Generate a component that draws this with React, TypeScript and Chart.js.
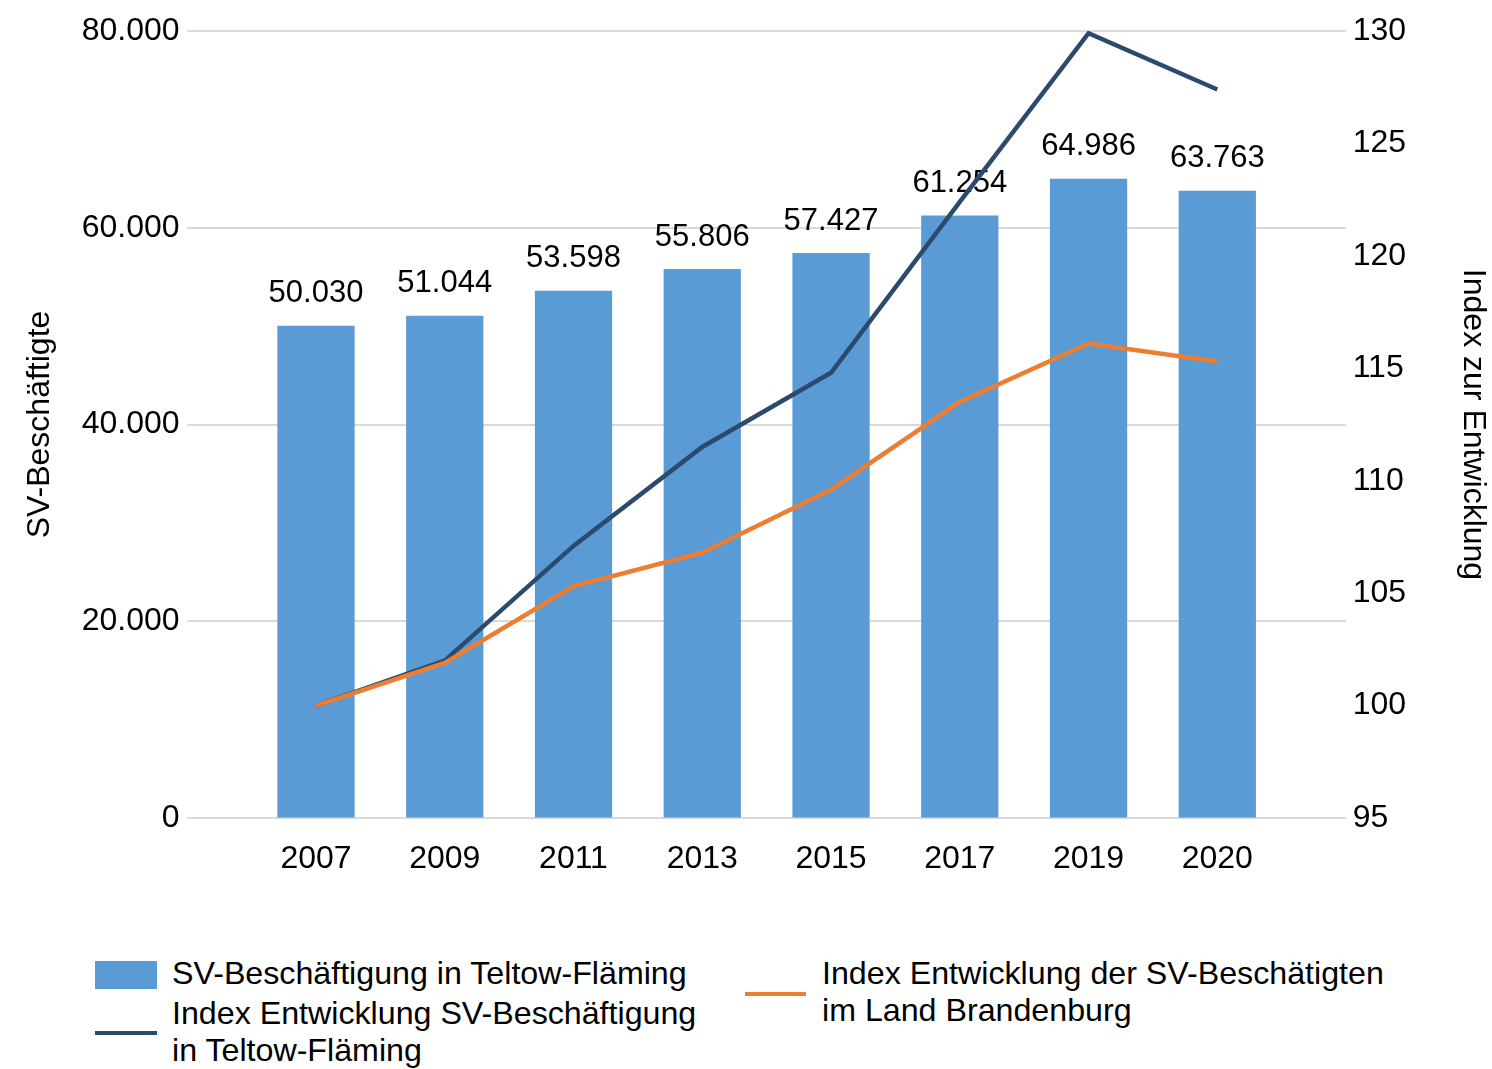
import React, { useEffect, useRef } from 'react';
import { Chart, registerables } from 'chart.js';

Chart.register(...registerables);

const years = ['2007', '2009', '2011', '2013', '2015', '2017', '2019', '2020'];
const employment = [50030, 51044, 53598, 55806, 57427, 61254, 64986, 63763];
const indexTeltowFlaeming = [100, 102.0, 107.1, 111.5, 114.8, 122.4, 129.9, 127.4];
const indexBrandenburg = [100, 101.9, 105.3, 106.8, 109.6, 113.5, 116.1, 115.3];

const leftMin = 0;
const leftMax = 80000;
const leftStep = 20000;
const rightMin = 95;
const rightMax = 130;
const rightStep = 5;

const leftTitle = 'SV-Beschäftigte';
const rightTitle = 'Index zur Entwicklung';
const legendBar = 'SV-Beschäftigung in Teltow-Fläming';
const legendDarkLines = ['Index Entwicklung SV-Beschäftigung', 'in Teltow-Fläming'];
const legendOrangeLines = ['Index Entwicklung der SV-Beschätigten', 'im Land Brandenburg'];

const BAR_COLOR = '#5B9BD5';
const DARK_COLOR = '#2C4A6E';
const ORANGE_COLOR = '#ED7D31';
const GRID_COLOR = '#D9D9D9';
const FONT = '"Liberation Sans", Arial, sans-serif';

const fmt = (v: number) =>
  Math.round(v)
    .toString()
    .replace(/\B(?=(\d{3})+(?!\d))/g, '.');

const gridPlugin = {
  id: 'extendedGrid',
  beforeDatasetsDraw(chart: any) {
    const { ctx, chartArea } = chart;
    const y = chart.scales.y;
    const x = chart.scales.x;
    const half = (x.getPixelForValue(1) - x.getPixelForValue(0)) / 2;
    ctx.save();
    ctx.strokeStyle = GRID_COLOR;
    ctx.lineWidth = 2;
    y.ticks.forEach((t: any) => {
      const py = Math.round(y.getPixelForValue(t.value));
      ctx.beginPath();
      ctx.moveTo(chartArea.left - half, py);
      ctx.lineTo(chartArea.right + half, py);
      ctx.stroke();
    });
    ctx.restore();
  },
};

const barLabelPlugin = {
  id: 'barLabels',
  afterDatasetDraw(chart: any, args: any) {
    if (args.index !== 0) return;
    const { ctx } = chart;
    ctx.save();
    ctx.fillStyle = '#000';
    ctx.font = `31px ${FONT}`;
    ctx.textAlign = 'center';
    ctx.textBaseline = 'middle';
    args.meta.data.forEach((bar: any, i: number) => {
      ctx.fillText(fmt(employment[i]), bar.x, bar.y - 32);
    });
    ctx.restore();
  },
};

export default function App() {
  const ref = useRef<HTMLCanvasElement | null>(null);

  useEffect(() => {
    document.body.style.overflow = 'hidden';
    const canvas = ref.current;
    if (!canvas) return;
    const hiddenTickGrid = {
      display: true,
      drawOnChartArea: false,
      drawTicks: true,
      tickLength: 64,
      tickColor: 'rgba(0,0,0,0)',
      color: 'rgba(0,0,0,0)',
    };
    const chart = new Chart(canvas, {
      type: 'bar',
      data: {
        labels: years,
        datasets: [
          {
            type: 'bar',
            label: legendBar,
            data: employment,
            backgroundColor: BAR_COLOR,
            yAxisID: 'y',
            order: 3,
            categoryPercentage: 1,
            barPercentage: 0.6,
          },
          {
            type: 'line',
            label: legendDarkLines.join(' '),
            data: indexTeltowFlaeming,
            borderColor: DARK_COLOR,
            backgroundColor: DARK_COLOR,
            borderWidth: 4.5,
            pointRadius: 0,
            tension: 0,
            yAxisID: 'y1',
            order: 2,
          },
          {
            type: 'line',
            label: legendOrangeLines.join(' '),
            data: indexBrandenburg,
            borderColor: ORANGE_COLOR,
            backgroundColor: ORANGE_COLOR,
            borderWidth: 4.5,
            pointRadius: 0,
            tension: 0,
            yAxisID: 'y1',
            order: 1,
          },
        ],
      },
      options: {
        responsive: false,
        animation: false,
        devicePixelRatio: 1,
        layout: { padding: { top: 31, left: 0, right: 0, bottom: 0 } },
        plugins: {
          legend: { display: false },
          tooltip: { enabled: false },
        },
        scales: {
          x: {
            grid: { display: false },
            border: { display: false },
            ticks: {
              color: '#000',
              font: { family: FONT, size: 32 },
              padding: 14,
            },
            afterFit: (s: any) => {
              s.height = 82;
            },
          },
          y: {
            position: 'left',
            min: leftMin,
            max: leftMax,
            grid: hiddenTickGrid,
            border: { display: false },
            ticks: {
              stepSize: leftStep,
              color: '#000',
              font: { family: FONT, size: 32 },
              padding: 8,
              callback: (v: any) => fmt(Number(v)),
            },
            title: {
              display: true,
              text: leftTitle,
              color: '#000',
              font: { family: FONT, size: 32 },
              padding: { top: 21, bottom: 0 },
            },
            afterFit: (s: any) => {
              s.width = 251.6;
            },
          },
          y1: {
            position: 'right',
            min: rightMin,
            max: rightMax,
            grid: hiddenTickGrid,
            border: { display: false },
            ticks: {
              stepSize: rightStep,
              color: '#000',
              font: { family: FONT, size: 32 },
              padding: 7,
            },
            title: {
              display: true,
              text: rightTitle,
              color: '#000',
              font: { family: FONT, size: 32 },
              padding: { top: 0, bottom: 0 },
            },
            afterFit: (s: any) => {
              s.width = 210.3;
            },
          },
        },
      },
      plugins: [gridPlugin, barLabelPlugin],
    } as any);
    return () => chart.destroy();
  }, []);

  const textStyle: React.CSSProperties = {
    position: 'absolute',
    fontFamily: FONT,
    fontSize: 32.2,
    lineHeight: '37px',
    color: '#000',
    whiteSpace: 'nowrap',
  };

  return (
    <div style={{ position: 'absolute', left: 0, top: 0, width: 1492, height: 1069, background: '#fff', overflow: 'hidden' }}>
      <canvas ref={ref} width={1492} height={900} style={{ position: 'absolute', left: 0, top: 0, width: 1492, height: 900 }} />
      <div style={{ position: 'absolute', left: 95, top: 961, width: 62, height: 28, background: BAR_COLOR }} />
      <div style={{ ...textStyle, left: 172, top: 954.5 }}>{legendBar}</div>
      <div style={{ position: 'absolute', left: 95, top: 1031, width: 62, height: 4, background: DARK_COLOR }} />
      <div style={{ ...textStyle, left: 172, top: 994.5 }}>
        {legendDarkLines[0]}
        <br />
        {legendDarkLines[1]}
      </div>
      <div style={{ position: 'absolute', left: 745, top: 992, width: 61, height: 4, background: ORANGE_COLOR }} />
      <div style={{ ...textStyle, left: 822, top: 954.5 }}>
        {legendOrangeLines[0]}
        <br />
        {legendOrangeLines[1]}
      </div>
    </div>
  );
}
